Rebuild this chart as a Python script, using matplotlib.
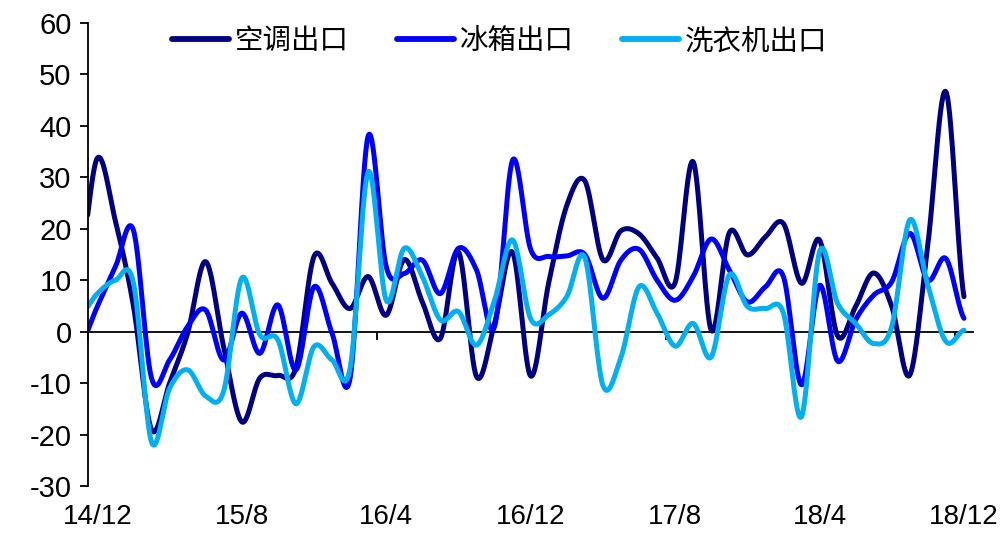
import numpy as np
import matplotlib
matplotlib.use('Agg')
import matplotlib.pyplot as plt

plt.rcParams['font.family'] = ['Liberation Sans', 'Noto Sans CJK SC']
plt.rcParams['axes.unicode_minus'] = False

# monthly yoy growth (%), first entry is 14/11 and sits just outside the left edge
ac_export = [12, 33.7, 21.5, 5, -19, -10, -0.3, 13.6, -3, -17.5,
             -9, -8.5, -7, 14.6, 9.4, 4.5, 10.7, 3.2, 14, 5.8,
             -1.3, 15.5, -8.7, 1.6, 15.4, -8.6, 9.5, 24.5, 29.3, 14,
             19.6, 19, 14.3, 9.5, 33, 0.3, 19.2, 14.9, 18.4, 21,
             9.4, 17.8, -0.8, 4.9, 11.4, 4.9, -8.4, 17, 46.6, 6.8]
fridge_export = [-3, 4.9, 12.6, 19.7, -9, -5.5, 1, 4.2, -5.5, 3.6,
                 -4.2, 5.2, -7.4, 8.7, -0.3, -9, 38, 12.6, 11.3, 13.9,
                 7.4, 16.2, 12, 1, 33.3, 16, 14.6, 14.7, 15, 6.5,
                 13.9, 16, 10, 6.1, 10.7, 18, 12, 5.8, 8.7, 10.7,
                 -10.3, 9, -5.7, 2.3, 7.1, 9.7, 19.1, 10, 14.2, 2.6]
washer_export = [3, 7.4, 10, 9.5, -21.4, -11, -7.4, -12.5, -11.5, 10.4,
                 -0.6, -1.6, -14, -2.9, -5.5, -7.1, 31, 6.1, 16.2, 10.7,
                 2.3, 3.9, -2.6, 6.1, 17.8, 2.5, 3.3, 6.8, 14.4, -10.4,
                 -5, 8.7, 3.6, -2.8, 1.6, -4.9, 11, 4.9, 4.5, 3.6,
                 -16.5, 15.5, 5.5, 1.6, -2.3, 1, 21.7, 9, -1.9, 0.3]

series_names = ['空调出口', '冰箱出口', '洗衣机出口']
tick_labels = ['14/12', '15/8', '16/4', '16/12', '17/8', '18/4', '18/12']


def smooth(y, n=30):
    # cardinal (catmull-rom) spline through the points, like excel's smoothed line
    y = np.asarray(y, float)
    p = np.concatenate([[y[0]], y, [y[-1]]])
    t = np.linspace(0, 1, n, endpoint=False)
    h00 = 2*t**3 - 3*t**2 + 1
    h10 = t**3 - 2*t**2 + t
    h01 = -2*t**3 + 3*t**2
    h11 = t**3 - t**2
    xs, ys = [], []
    for i in range(len(y) - 1):
        p0, p1, p2, p3 = p[i], p[i+1], p[i+2], p[i+3]
        m1 = (p2 - p0) / 2
        m2 = (p3 - p1) / 2
        ys.append(h00*p1 + h10*m1 + h01*p2 + h11*m2)
        xs.append(i + t)
    xs.append([len(y) - 1])
    ys.append([y[-1]])
    return np.concatenate(xs), np.concatenate(ys)


fig = plt.figure(figsize=(10.07, 5.40), dpi=100)
ax = fig.add_axes([88.3/1007, 1 - 486.2/540, (973 - 88.3)/1007, (486.2 - 22.7)/540])

colors = ['#000080', '#0000FF', '#00B0F0']
for data, name, c in zip([ac_export, fridge_export, washer_export], series_names, colors):
    xs, ys = smooth(data)
    ax.plot(xs - 1, ys, color=c, lw=3.6, label=name, solid_capstyle='round')

ax.set_xlim(-0.5, 48.5)
ax.set_ylim(-30, 60)
ax.set_yticks(range(-30, 61, 10))
ax.set_xticks(range(0, 49, 8))
ax.set_xticklabels(tick_labels)

for s in ['top', 'right', 'bottom']:
    ax.spines[s].set_visible(False)
ax.spines['left'].set_linewidth(1.3)
ax.tick_params(axis='y', direction='out', length=6, width=1.3, labelsize=21, pad=6)
ax.tick_params(axis='x', length=0, labelsize=20, pad=13)

# zero line with a tick every 16 months
zero = ax.secondary_xaxis(1/3)
zero.set_alignment('bottom')
zero.set_xticks([-0.5, 15.5, 31.5, 47.5])
zero.set_xticklabels([])
zero.spines['bottom'].set_linewidth(1.3)
zero.tick_params(direction='out', length=6, width=1.3)

leg = fig.legend(loc='center', bbox_to_anchor=(500/1007, 1 - 42/540), ncol=3,
                 frameon=False, fontsize=20.5, handlelength=2.0, handletextpad=0.2,
                 columnspacing=1.7)
for line in leg.get_lines():
    line.set_linewidth(4.2)

fig.savefig('out.png', dpi=100)
